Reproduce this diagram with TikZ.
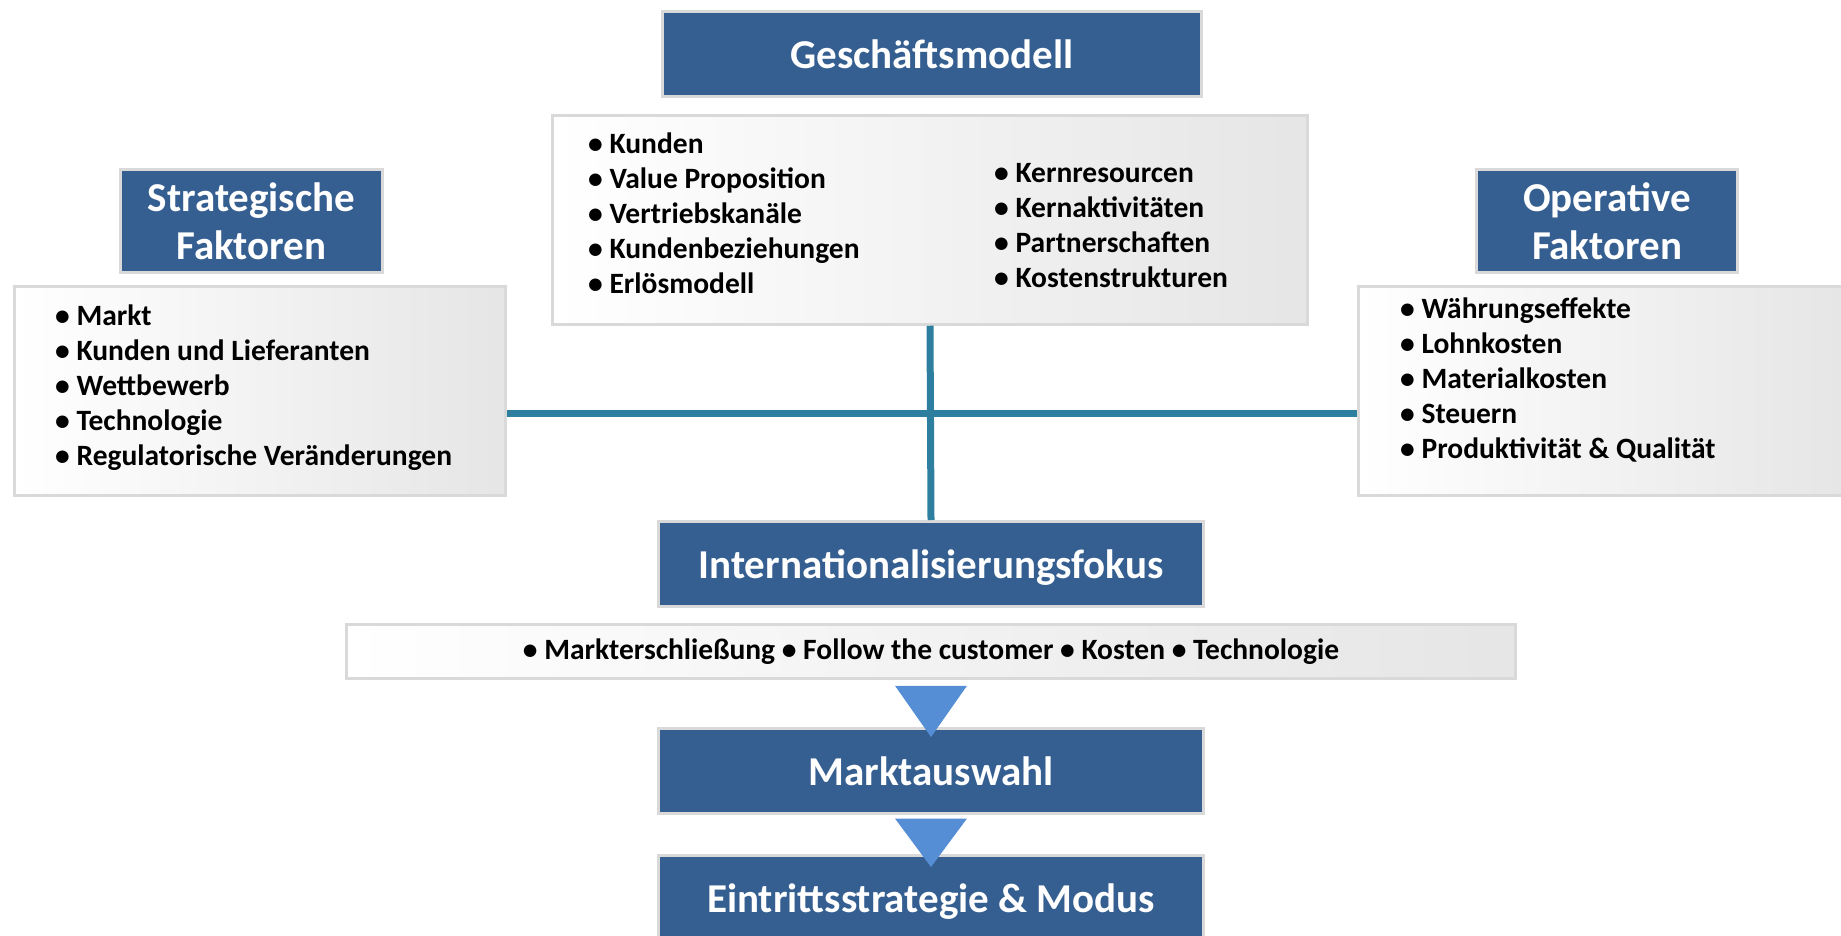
\documentclass[tikz,border=0pt]{standalone}
\usepackage{fontspec}
\setmainfont{Carlito}
\usetikzlibrary{calc}
\definecolor{hdr}{RGB}{54,95,145}
\definecolor{connc}{RGB}{46,126,160}
\definecolor{tric}{RGB}{85,142,213}
\definecolor{framec}{RGB}{217,217,217}
\begin{document}
\begin{tikzpicture}[x=1pt,y=-1pt,
  hbox/.style={draw=framec, line width=3pt, fill=hdr, text=white, font=\bfseries\fontsize{41}{48}\selectfont, align=center, inner sep=0pt},
  onel/.style={text depth=0pt},
  lbox/.style={draw=framec, line width=2.5pt, left color=white, right color=black!10, inner sep=0pt},
  ltext/.style={font=\bfseries\fontsize{29.5}{35}\selectfont, align=left, inner sep=0pt, anchor=west},
  connline/.style={draw=connc, line width=7pt},
  arrowtri/.style={fill=tric}]
\useasboundingbox (0,0) rectangle (1841,936);

% Geschaeftsmodell
\node[hbox, onel, minimum width=539, minimum height=85] (gmh) at (932,54) {Geschäftsmodell};
\node[lbox, minimum width=755, minimum height=209] (gml) at (930,220) {};
\node[ltext] (gml1) at (588,213) {• Kunden\\• Value Proposition\\• Vertriebskanäle\\• Kundenbeziehungen\\• Erlösmodell};
\node[ltext] (gml2) at (994,226) {• Kernresourcen\\• Kernaktivitäten\\• Partnerschaften\\• Kostenstrukturen};

% Strategische Faktoren
\node[hbox, minimum width=262, minimum height=103] (sfh) at (251.5,221) {Strategische\\Faktoren};
\node[lbox, minimum width=491, minimum height=209] (sfl) at (260,391) {};
\node[ltext] (sft) at (55,388) {• Markt\\• Kunden und Lieferanten\\• Wettbewerb\\• Technologie\\• Regulatorische Veränderungen};

% Operative Faktoren
\node[hbox, minimum width=261, minimum height=103] (ofh) at (1607,221) {Operative\\Faktoren};
\node[lbox, minimum width=491, minimum height=209] (ofl) at (1604,391) {};
\node[ltext] (oft) at (1400,380) {• Währungseffekte\\• Lohnkosten\\• Materialkosten\\• Steuern\\• Produktivität \& Qualität};

% lower chain
\node[hbox, onel, minimum width=545, minimum height=85] (intl) at (931,564) {Internationalisierungsfokus};
\node[lbox, minimum width=1169, minimum height=54, font=\bfseries\fontsize{29.5}{35}\selectfont] (bar) at (931,651.5) {• Markterschließung • Follow the customer • Kosten • Technologie};
\node[hbox, onel, minimum width=545, minimum height=85] (mkt) at (931,771) {Marktauswahl};
\node[hbox, onel, minimum width=545, minimum height=85] (ein) at (931,898) {Eintrittsstrategie \& Modus};

% connectors
\draw[connline] ([yshift=-22pt]sfl.east) -- ([yshift=-22pt]ofl.west);
\draw[connline] (gml.south) -- (intl.north);

% arrow triangles
\fill[arrowtri] ($(bar.south)+(-36,6)$) -- ($(bar.south)+(36,6)$) -- ($(mkt.north)+(0,10)$) -- cycle;
\fill[arrowtri] ($(mkt.south)+(-36,3.5)$) -- ($(mkt.south)+(36,3.5)$) -- ($(ein.north)+(0,13)$) -- cycle;
\end{tikzpicture}
\end{document}
